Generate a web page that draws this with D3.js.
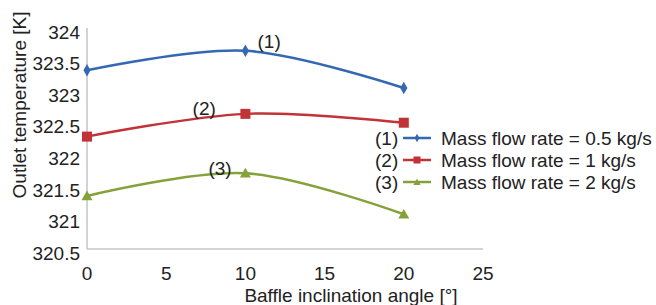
<!DOCTYPE html>
<meta charset="utf-8">
<script src="https://cdnjs.cloudflare.com/ajax/libs/d3/7.8.5/d3.min.js"></script>
<style>
  body { margin: 0; background: #fff; }
  text { font-family: "Liberation Sans", Arial, sans-serif; fill: #222; }
</style>
<div id="my_dataviz"></div>
<script>

// data
var angles = [0, 10, 20];
var flow05 = [323.33, 323.64, 323.05];
var flow1  = [322.28, 322.64, 322.50];
var flow2  = [321.34, 321.70, 321.05];
var seriesNames = ["Mass flow rate = 0.5 kg/s", "Mass flow rate = 1 kg/s", "Mass flow rate = 2 kg/s"];
var seriesTags = ["(1)", "(2)", "(3)"];
// where the (n) tags sit, in data units
var tagX = [11.5, 7.4, 8.4];
var tagY = [323.79, 322.73, 321.78];
var xTicks = [0, 5, 10, 15, 20, 25];
var yTicks = [320.5, 321, 321.5, 322, 322.5, 323, 323.5, 324];

var colors = ["#3468b2", "#c13336", "#85a23a"];
var allSeries = [flow05, flow1, flow2];

var width = 656, height = 305;
var margin = {top: 28, left: 87};
var plotW = 396, plotH = 221;
var fs = "19px";

var svg = d3.select("#my_dataviz")
  .append("svg")
    .attr("width", width)
    .attr("height", height);

var g = svg.append("g")
    .attr("transform", "translate(" + margin.left + "," + margin.top + ")");

var x = d3.scaleLinear().domain([0, 25]).range([0, plotW]);
var y = d3.scaleLinear().domain([320.5, 324]).range([plotH, 0]);

// axes lines (no tick marks)
g.append("line")
    .attr("x1", 0).attr("x2", 0).attr("y1", 0).attr("y2", plotH)
    .attr("stroke", "#c4c4c4").attr("stroke-width", 1.5);
g.append("line")
    .attr("x1", 0).attr("x2", plotW).attr("y1", plotH).attr("y2", plotH)
    .attr("stroke", "#c4c4c4").attr("stroke-width", 1.5);

// tick labels
g.selectAll(".ylab")
  .data(yTicks)
  .enter().append("text")
    .attr("x", -7)
    .attr("y", function(d) { return y(d) + 4; })
    .attr("dy", "0.35em")
    .attr("text-anchor", "end")
    .style("font-size", fs)
    .text(function(d) { return d; });

g.selectAll(".xlab")
  .data(xTicks)
  .enter().append("text")
    .attr("x", function(d) { return x(d); })
    .attr("y", plotH + 24)
    .attr("dy", "0.35em")
    .attr("text-anchor", "middle")
    .style("font-size", fs)
    .text(function(d) { return d; });

// axis titles
svg.append("text")
    .attr("x", 351)
    .attr("y", 295)
    .attr("dy", "0.35em")
    .attr("text-anchor", "middle")
    .style("font-size", fs)
    .text("Baffle inclination angle [°]");

svg.append("text")
    .attr("transform", "translate(19,105) rotate(-90)")
    .attr("dy", "0.35em")
    .attr("text-anchor", "middle")
    .style("font-size", fs)
    .text("Outlet temperature [K]");

// smoothed lines
var line = d3.line()
    .x(function(d, i) { return x(angles[i]); })
    .y(function(d) { return y(d); })
    .curve(d3.curveCatmullRom.alpha(0.5));

allSeries.forEach(function(vals, k) {
  g.append("path")
      .datum(vals)
      .attr("d", line)
      .attr("fill", "none")
      .attr("stroke", colors[k])
      .attr("stroke-width", 2.5);
});

function marker(sel, k, cx, cy, s) {
  if (k === 0) {
    sel.append("path")
        .attr("d", d3.symbol().type(d3.symbolDiamond).size(s * s * 2.2)())
        .attr("transform", "translate(" + cx + "," + cy + ")")
        .attr("fill", colors[k]);
  } else if (k === 1) {
    sel.append("rect")
        .attr("x", cx - s).attr("y", cy - s)
        .attr("width", 2 * s).attr("height", 2 * s)
        .attr("fill", colors[k]);
  } else {
    sel.append("path")
        .attr("d", d3.symbol().type(d3.symbolTriangle).size(s * s * 2.6)())
        .attr("transform", "translate(" + cx + "," + (cy + 1) + ")")
        .attr("fill", colors[k]);
  }
}

allSeries.forEach(function(vals, k) {
  vals.forEach(function(v, i) {
    marker(g, k, x(angles[i]), y(v), k === 1 ? 5 : 4.5);
  });
});

// (n) tags on the curves
g.selectAll(".tag")
  .data(seriesTags)
  .enter().append("text")
    .attr("x", function(d, i) { return x(tagX[i]); })
    .attr("y", function(d, i) { return y(tagY[i]); })
    .attr("dy", "0.35em")
    .attr("text-anchor", "middle")
    .style("font-size", fs)
    .text(function(d) { return d; });

// legend
var legend = svg.append("g");
seriesNames.forEach(function(name, k) {
  var ly = 138 + k * 22;
  legend.append("text")
      .attr("x", 375).attr("y", ly)
      .attr("dy", "0.35em")
      .style("font-size", fs)
      .text(seriesTags[k]);
  legend.append("line")
      .attr("x1", 403).attr("x2", 431)
      .attr("y1", ly).attr("y2", ly)
      .attr("stroke", colors[k]).attr("stroke-width", 2.5);
  marker(legend, k, 417, ly, k === 1 ? 3.5 : 3);
  legend.append("text")
      .attr("x", 441).attr("y", ly)
      .attr("dy", "0.35em")
      .style("font-size", fs)
      .text(name);
});

</script>
